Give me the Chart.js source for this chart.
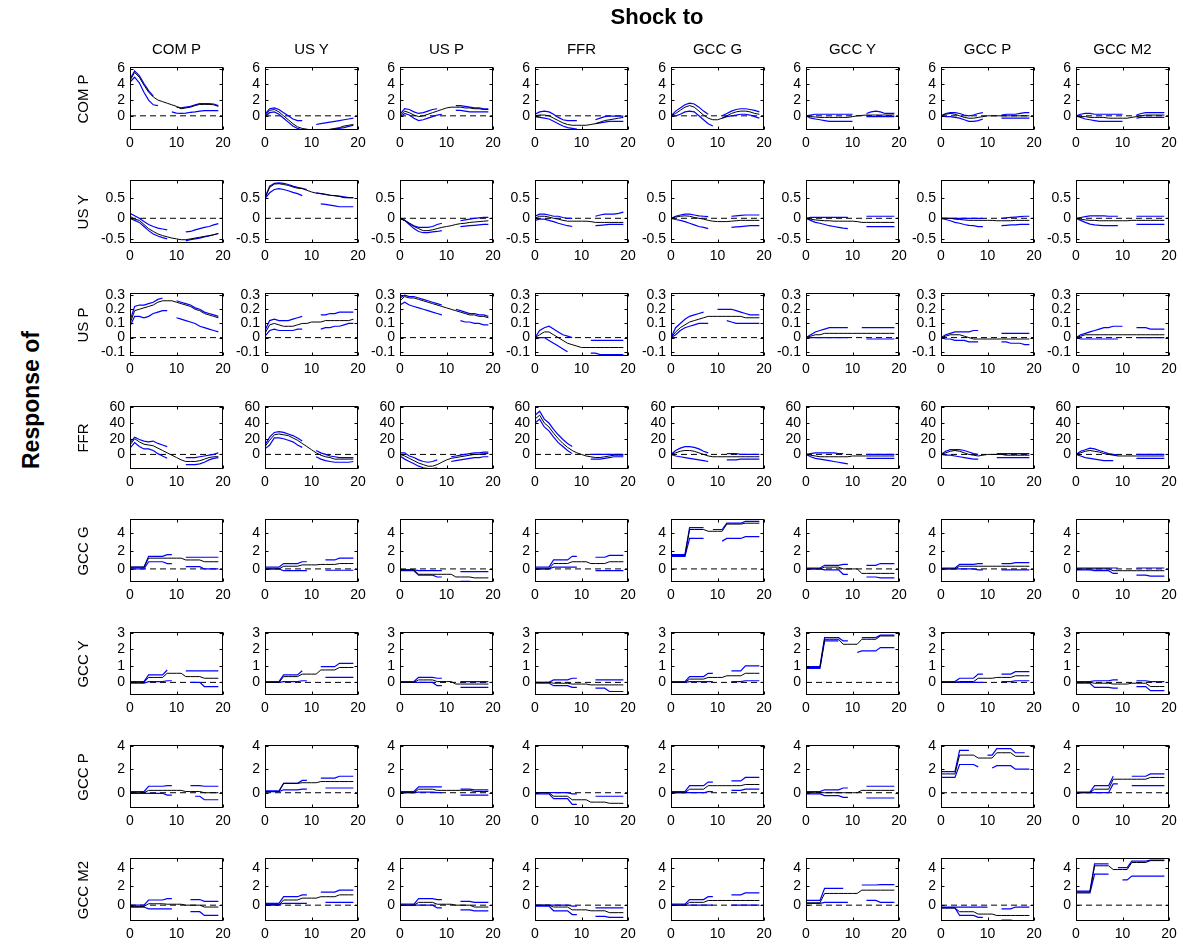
<!DOCTYPE html>
<html>
<head>
<meta charset="utf-8">
<script src="https://cdn.jsdelivr.net/npm/chart.js@4/dist/chart.umd.min.js"></script>
<style>
body { margin: 0; background: #fff; width: 1183px; height: 944px; position: relative; overflow: hidden;
       font-family: Arial, "Liberation Sans", sans-serif; }
canvas { position: absolute; }
.lbl { position: absolute; white-space: nowrap; color: #000; transform: translate(-50%, -50%); }
.rot { transform: translate(-50%, -50%) rotate(-90deg); }
</style>
</head>
<body>
<script>
const _ = null; // gap in a band line

const HZ = [0,1,2,3,4,5,6,7,8,9,10,11,12,13,14,15,16,17,18,19]; // horizon (quarters)

const SHOCKS = ['COM P', 'US Y', 'US P', 'FFR', 'GCC G', 'GCC Y', 'GCC P', 'GCC M2'];
const RESPONSES = ['COM P', 'US Y', 'US P', 'FFR', 'GCC G', 'GCC Y', 'GCC P', 'GCC M2'];

const Y_TICKS = [[0,2,4,6], [-0.5,0,0.5], [-0.1,0,0.1,0.2,0.3], [0,20,40,60], [0,2,4], [0,1,2,3], [0,2,4], [0,2,4]];
const Y_MIN = [-1.8, -0.6, -0.13, -18.6, -1.46, -0.76, -1.3, -1.69];
const Y_MAX = [6.2, 0.93, 0.315, 61.7, 5.57, 3.04, 4.06, 5.03];
const X_TICKS = [0, 10, 20];

// ---- response of COM P ----
const comP_med = [
  [4.5,5.5,4.9,3.9,3.0,2.4,2.0,1.8,1.6,1.4,1.2,0.9,1.0,1.1,1.3,1.45,1.45,1.45,1.4,1.2],
  [0,0.7,0.8,0.5,0,-0.5,-1.0,-1.4,-1.6,-1.7,-1.8,-1.8,-1.8,-1.8,-1.7,-1.6,-1.5,-1.3,-1.2,-1.1],
  [0,0.6,0.4,0.1,-0.1,0,0.2,0.4,0.6,0.8,1.0,1.1,1.1,1.1,1.0,1.0,0.9,0.9,0.8,0.8],
  [0,0.1,0.1,0,-0.3,-0.6,-0.9,-1.1,-1.2,-1.2,-1.2,-1.2,-1.1,-1.0,-0.8,-0.6,-0.5,-0.4,-0.3,-0.2],
  [0,0.3,0.7,1.1,1.3,1.1,0.6,0.1,-0.3,-0.5,-0.5,-0.3,0,0.3,0.5,0.6,0.6,0.5,0.3,0.2],
  [0,-0.1,-0.15,-0.2,-0.2,-0.2,-0.2,-0.2,-0.2,-0.2,-0.1,0,0.05,0.1,0.1,0.1,0.1,0.1,0.1,0.1],
  [0,0.2,0.3,0.2,0,-0.2,-0.3,-0.3,-0.2,-0.1,0,0,0,0,0,0,0,0,0,0],
  [0,-0.1,-0.1,-0.2,-0.2,-0.2,-0.2,-0.3,-0.3,-0.3,-0.3,-0.3,-0.2,-0.1,0,0.1,0.1,0.1,0.1,0.1]
];
const comP_hi = [
  [4.7,5.7,5.1,4.1,3.2,2.5,_,_,_,_,1.1,1.0,1.1,1.2,1.4,1.55,1.55,1.55,1.5,1.3],
  [0.2,0.9,1.0,0.8,0.4,0,-0.4,-0.6,-0.6,_,_,-1.1,-1.0,-0.9,-0.8,-0.7,-0.6,-0.5,-0.4,-0.3],
  [0.2,0.9,0.8,0.5,0.3,0.4,0.6,0.8,0.9,_,_,_,1.3,1.3,1.2,1.1,1.0,1.0,0.9,0.9],
  [0.2,0.5,0.6,0.5,0.2,-0.2,-0.5,-0.6,-0.6,-0.6,_,_,_,-0.5,-0.3,-0.1,-0.05,-0.05,-0.05,-0.05],
  [0,0.6,1.0,1.4,1.6,1.5,1.1,0.6,0.2,_,_,0,0.3,0.6,0.8,0.9,0.9,0.8,0.7,0.5],
  [0,0.1,0.2,0.2,0.2,0.2,0.2,0.2,0.2,0.2,0.2,_,_,0.3,0.5,0.6,0.5,0.3,0.3,0.3],
  [0,0.3,0.4,0.4,0.3,0.1,0,0.1,0.3,0.4,_,_,_,0.1,0.2,0.2,0.2,0.3,0.4,0.4],
  [0,0.2,0.3,0.3,0.2,0.2,0.2,0.2,0.2,0.2,0.2,_,_,0.1,0.3,0.4,0.4,0.4,0.4,0.4]
];
const comP_lo = [
  [4.3,4.9,4.2,3.0,2.0,1.4,1.3,_,_,0.5,0.35,0.3,0.35,0.45,0.5,0.6,0.65,0.65,0.65,0.65],
  [-0.1,0.4,0.5,0.2,-0.3,-0.8,-1.3,-1.6,-1.8,-1.9,-1.95,_,-1.9,-1.9,-1.8,-1.7,-1.6,-1.5,-1.35,-1.2],
  [-0.2,0.3,0.1,-0.3,-0.6,-0.5,-0.3,-0.1,0.1,0.2,_,_,0.7,0.7,0.6,0.5,0.5,0.5,0.5,0.5],
  [-0.1,-0.2,-0.3,-0.4,-0.7,-1.0,-1.3,-1.5,-1.6,-1.7,_,_,_,-1.0,-0.9,-0.8,-0.7,-0.7,-0.7,-0.7],
  [0,0,0.2,0.5,0.6,0.5,0,-0.5,-1.0,-1.3,_,-0.3,-0.1,0,0.1,0.2,0.2,0.1,-0.1,-0.3],
  [0,-0.3,-0.4,-0.5,-0.6,-0.7,-0.7,-0.7,-0.7,-0.7,-0.7,_,_,-0.1,-0.1,-0.1,-0.1,-0.1,-0.1,-0.1],
  [0,-0.1,-0.1,-0.2,-0.3,-0.5,-0.7,-0.7,-0.6,-0.4,_,_,_,-0.3,-0.3,-0.3,-0.3,-0.3,-0.3,-0.3],
  [0,-0.2,-0.4,-0.5,-0.6,-0.7,-0.7,-0.7,-0.7,-0.7,-0.7,_,_,-0.3,-0.2,-0.2,-0.2,-0.2,-0.2,-0.2]
];

// ---- response of US Y ----
const usY_med = [
  [0.05,-0.02,-0.05,-0.15,-0.25,-0.32,-0.38,-0.42,-0.45,-0.48,-0.5,-0.52,-0.52,-0.5,-0.48,-0.46,-0.44,-0.42,-0.4,-0.37],
  [0.5,0.75,0.83,0.84,0.82,0.8,0.76,0.73,0.72,0.68,0.64,0.61,0.6,0.58,0.56,0.55,0.53,0.5,0.5,0.5],
  [0,-0.05,-0.12,-0.2,-0.25,-0.3,-0.3,-0.28,-0.25,-0.22,-0.2,-0.18,-0.15,-0.13,-0.12,-0.1,-0.09,-0.08,-0.07,-0.06],
  [0,0.05,0.05,0.03,0,-0.02,-0.05,-0.07,-0.07,-0.07,-0.07,-0.07,-0.08,-0.1,-0.1,-0.1,-0.1,-0.1,-0.1,-0.1],
  [0,0.03,0.05,0.06,0.05,0.02,0,-0.02,-0.05,-0.07,-0.08,-0.08,-0.08,-0.07,-0.06,-0.05,-0.05,-0.05,-0.05,-0.05],
  [0,-0.02,-0.04,-0.05,-0.06,-0.06,-0.07,-0.07,-0.07,-0.07,-0.07,-0.08,-0.1,-0.1,-0.1,-0.1,-0.1,-0.1,-0.1,-0.1],
  [0,0,0,-0.02,-0.03,-0.04,-0.05,-0.05,-0.05,-0.05,-0.05,-0.05,-0.06,-0.06,-0.06,-0.06,-0.05,-0.05,-0.05,-0.05],
  [0,-0.02,-0.04,-0.05,-0.05,-0.06,-0.06,-0.06,-0.06,-0.06,-0.06,-0.06,-0.05,-0.05,-0.05,-0.05,-0.05,-0.05,-0.05,-0.05]
];
const usY_hi = [
  [0.12,0.06,0,-0.08,-0.15,-0.2,-0.24,-0.26,-0.28,_,_,_,-0.33,-0.32,-0.28,-0.25,-0.22,-0.2,-0.16,-0.13],
  [0.5,0.78,0.85,0.86,0.85,0.82,0.78,0.75,0.73,0.7,_,0.62,0.6,0.58,0.56,0.55,0.54,0.52,0.5,0.5],
  [0,-0.05,-0.12,-0.18,-0.22,-0.22,-0.22,-0.2,-0.15,-0.12,_,_,_,-0.06,-0.04,-0.02,0,0.01,0.02,0.02],
  [0.05,0.1,0.1,0.08,0.05,0.05,0.02,0,0,_,_,_,_,0.05,0.08,0.1,0.1,0.1,0.12,0.15],
  [0,0.05,0.08,0.1,0.1,0.08,0.06,0.05,0.04,_,_,_,_,0.05,0.06,0.07,0.08,0.08,0.08,0.08],
  [0,0.02,0.02,0.02,0.02,0.02,0.02,0.02,0.02,0.02,_,_,_,0.05,0.05,0.05,0.05,0.05,0.05,0.05],
  [0,0,0,0,0,0,0,0,0,0,_,_,_,0,0.01,0.02,0.03,0.04,0.05,0.05],
  [0,0.02,0.04,0.06,0.06,0.06,0.06,0.05,0.05,0.05,_,_,_,0.05,0.05,0.05,0.05,0.05,0.05,0.05]
];
const usY_lo = [
  [0,-0.05,-0.1,-0.2,-0.3,-0.38,-0.43,-0.47,-0.5,_,_,_,-0.55,-0.52,-0.5,-0.48,-0.45,-0.43,-0.4,-0.37],
  [0.48,0.62,0.7,0.72,0.7,0.67,0.63,0.6,0.55,_,_,_,0.35,0.34,0.32,0.3,0.28,0.28,0.28,0.28],
  [0,-0.05,-0.15,-0.25,-0.32,-0.35,-0.35,-0.33,-0.32,-0.3,_,_,_,-0.2,-0.19,-0.18,-0.17,-0.16,-0.15,-0.15],
  [-0.05,-0.02,-0.02,-0.05,-0.08,-0.12,-0.15,-0.18,-0.2,_,_,_,_,-0.18,-0.17,-0.16,-0.15,-0.15,-0.15,-0.15],
  [0,-0.03,-0.05,-0.08,-0.12,-0.16,-0.2,-0.22,-0.25,_,_,_,_,-0.22,-0.21,-0.2,-0.19,-0.18,-0.18,-0.18],
  [0,-0.05,-0.1,-0.12,-0.15,-0.18,-0.2,-0.22,-0.24,-0.25,_,_,_,-0.2,-0.2,-0.2,-0.2,-0.2,-0.2,-0.2],
  [0,-0.03,-0.06,-0.1,-0.12,-0.15,-0.17,-0.18,-0.2,-0.2,_,_,_,-0.18,-0.17,-0.16,-0.16,-0.15,-0.15,-0.15],
  [0,-0.05,-0.1,-0.14,-0.16,-0.17,-0.18,-0.18,-0.18,-0.18,_,_,_,-0.15,-0.15,-0.15,-0.15,-0.15,-0.15,-0.15]
];

// ---- response of US P ----
const usP_med = [
  [0.1,0.19,0.2,0.21,0.22,0.23,0.25,0.26,0.26,0.26,0.25,0.24,0.23,0.22,0.2,0.19,0.17,0.16,0.15,0.14],
  [0.03,0.09,0.1,0.09,0.08,0.08,0.08,0.09,0.1,0.1,0.11,0.11,0.11,0.12,0.12,0.12,0.12,0.12,0.12,0.13],
  [0.26,0.29,0.28,0.28,0.27,0.26,0.25,0.24,0.23,0.22,0.21,0.2,0.19,0.18,0.17,0.16,0.16,0.15,0.15,0.14],
  [0,0.02,0.04,0.04,0.02,0,-0.02,-0.04,-0.05,-0.06,-0.07,-0.07,-0.07,-0.07,-0.07,-0.07,-0.07,-0.07,-0.07,-0.07],
  [0,0.04,0.07,0.09,0.11,0.12,0.13,0.14,0.15,0.15,0.15,0.15,0.15,0.15,0.15,0.15,0.14,0.14,0.14,0.14],
  [0,0.01,0.02,0.02,0.03,0.03,0.03,0.03,0.03,0.03,0.03,0.03,0.03,0.03,0.03,0.03,0.03,0.03,0.03,0.03],
  [0,0.01,0.02,0.02,0.02,0.01,0,-0.01,-0.01,-0.01,-0.01,-0.01,-0.01,-0.01,-0.01,-0.01,-0.01,-0.01,-0.01,-0.01],
  [0,0.01,0.02,0.02,0.02,0.02,0.02,0.02,0.02,0.02,0.02,0.02,0.02,0.02,0.02,0.02,0.02,0.02,0.02,0.02]
];
const usP_hi = [
  [0.12,0.22,0.23,0.23,0.24,0.25,0.27,0.28,_,_,0.26,0.25,0.24,0.23,0.21,0.2,0.18,0.17,0.16,0.15],
  [0.05,0.12,0.13,0.12,0.12,0.12,0.13,0.14,0.15,_,_,_,0.16,0.16,0.17,0.17,0.18,0.18,0.18,0.18],
  [0.28,0.3,0.29,0.29,0.28,0.27,0.26,0.25,0.24,0.23,_,_,0.2,0.19,0.18,0.17,0.17,0.16,0.16,0.15],
  [0,0.05,0.07,0.08,0.06,0.04,0.02,0.01,0,_,_,_,-0.02,-0.02,-0.02,-0.02,-0.02,-0.02,-0.02,-0.02],
  [0,0.07,0.1,0.13,0.15,0.16,0.17,0.18,_,_,0.2,0.2,0.2,0.2,0.19,0.18,0.17,0.16,0.16,0.16],
  [0,0.02,0.04,0.05,0.06,0.07,0.07,0.07,0.07,0.07,_,_,0.07,0.07,0.07,0.07,0.07,0.07,0.07,0.07],
  [0,0.02,0.03,0.04,0.04,0.04,0.04,0.05,0.05,_,_,_,_,0.03,0.03,0.03,0.03,0.03,0.03,0.03],
  [0,0.02,0.03,0.04,0.05,0.06,0.07,0.07,0.08,0.08,0.08,_,_,0.07,0.07,0.07,0.06,0.06,0.06,0.06]
];
const usP_lo = [
  [0.08,0.15,0.15,0.14,0.15,0.17,0.18,0.19,0.19,_,0.14,0.13,0.12,0.11,0.1,0.08,0.07,0.06,0.05,0.04],
  [0.01,0.05,0.06,0.05,0.05,0.05,0.05,0.06,0.06,_,_,_,0.06,0.07,0.07,0.08,0.08,0.09,0.1,0.1],
  [0.23,0.25,0.23,0.22,0.21,0.2,0.19,0.18,0.17,0.16,_,_,_,0.12,0.11,0.11,0.1,0.1,0.09,0.09],
  [-0.01,0,0,-0.02,-0.04,-0.06,-0.08,-0.1,_,_,_,_,-0.11,-0.11,-0.12,-0.12,-0.12,-0.12,-0.12,-0.12],
  [0,0.02,0.05,0.07,0.08,0.09,0.1,0.1,0.1,_,_,_,0.12,0.11,0.1,0.1,0.1,0.1,0.1,0.1],
  [0,0,0,0,0,0,0,0,0,0,_,_,_,-0.01,-0.01,-0.01,-0.01,-0.01,-0.01,-0.01],
  [0,-0.01,-0.01,-0.02,-0.02,-0.02,-0.03,-0.03,-0.03,_,_,_,_,-0.03,-0.03,-0.04,-0.04,-0.04,-0.05,-0.05],
  [0,-0.01,-0.01,-0.01,-0.01,-0.01,-0.01,-0.01,-0.01,-0.01,_,_,_,0,0,0,0,0,0,0]
];

// ---- response of FFR ----
const ffr_med = [
  [12,20,16,13,12,11,8,5,2,-1,-4,-7,-9,-9,-9,-8,-6,-4,-3,-3],
  [10,18,25,26,25,24,21,18,14,10,6,2,-1,-3,-4,-6,-6,-6,-6,-6],
  [0,-2,-5,-8,-11,-13,-15,-15,-13,-10,-7,-5,-4,-3,-2,-1,0,0,1,1],
  [45,50,40,35,27,20,14,9,5,2,0,-2,-3,-4,-4,-3,-2,-1,-1,-1],
  [0,2,4,5,5,4,2,0,-2,-3,-3,-3,-3,-3,-3,-3,-3,-3,-3,-3],
  [0,-1,-2,-3,-3,-3,-3,-3,-3,-3,-2,-2,-2,-2,-2,-2,-2,-2,-2,-2],
  [0,2,4,5,4,2,0,-1,-2,-1,0,0,0,0,-1,-1,-1,-1,-1,-1],
  [0,2,4,5,4,3,1,0,-1,-2,-2,-2,-2,-2,-2,-2,-2,-2,-2,-2]
];
const ffr_hi = [
  [15,22,19,17,16,17,14,12,10,_,_,_,-4,-4,-4,-3,-2,-1,0,2],
  [12,22,28,29,28,26,24,21,17,_,_,5,2,0,-2,-3,-4,-4,-4,-4],
  [2,2,-2,-4,-7,-9,-10,-9,-7,_,_,-3,-2,-1,0,1,2,2,3,3],
  [50,55,45,40,32,25,19,14,10,_,_,_,0,0,0,0,0,0,0,0],
  [0,5,8,10,10,9,7,4,2,_,_,_,1,1,1,0,0,0,0,0],
  [0,1,2,2,2,2,2,1,1,_,_,_,_,0,0,0,0,0,0,0],
  [0,4,6,6,6,5,3,1,0,_,_,_,1,1,1,1,1,1,1,1],
  [0,4,6,8,7,5,3,1,0,-1,_,_,_,0,0,0,0,0,0,0]
];
const ffr_lo = [
  [8,15,10,7,7,5,1,-2,-5,_,_,_,-13,-13,-13,-12,-10,-7,-5,-4],
  [7,12,21,21,20,18,16,12,9,_,_,-3,-6,-8,-9,-10,-10,-10,-10,-9],
  [-2,-6,-9,-12,-15,-17,-18,-18,-17,_,_,-9,-8,-7,-6,-5,-4,-4,-3,-3],
  [40,45,35,30,22,15,10,5,1,_,_,_,-6,-6,-6,-5,-4,-3,-3,-3],
  [0,-2,-3,-4,-5,-6,-7,-8,-9,_,_,_,-7,-7,-7,-6,-6,-6,-6,-6],
  [0,-3,-5,-6,-7,-8,-9,-10,-11,-12,_,_,_,-5,-5,-5,-5,-5,-5,-5],
  [0,-1,-1,-2,-3,-4,-5,-6,-6,_,_,_,-4,-4,-4,-4,-4,-4,-4,-4],
  [0,-2,-4,-5,-6,-7,-8,-8,-8,_,_,_,_,-5,-5,-5,-5,-5,-5,-5]
];

// ---- response of GCC G ----
const gccG_med = [
  [0.2,0.2,0.2,0.2,1.2,1.2,1.2,1.2,1.2,1.2,1.2,1.2,1.0,1.0,1.0,1.0,0.8,0.8,0.8,0.8],
  [0,0,0,0,0.3,0.3,0.3,0.3,0.45,0.45,0.45,0.45,0.5,0.5,0.5,0.5,0.6,0.6,0.6,0.6],
  [-0.1,-0.1,-0.1,-0.1,-0.6,-0.6,-0.6,-0.6,-0.6,-0.6,-0.6,-0.6,-0.9,-0.9,-0.9,-0.9,-1.0,-1.0,-1.0,-1.0],
  [0,0,0,0,0.6,0.6,0.6,0.6,0.8,0.8,0.8,0.8,0.6,0.6,0.6,0.6,0.8,0.8,0.8,0.8],
  [1.5,1.5,1.5,1.5,4.4,4.4,4.4,4.4,4.2,4.2,4.2,4.2,5.0,5.0,5.0,5.0,5.1,5.1,5.1,5.1],
  [0,0,0,0,0.2,0.2,0.2,0.2,0,0,0,0,-0.5,-0.5,-0.5,-0.5,-0.5,-0.5,-0.5,-0.5],
  [0,0,0,0,0.3,0.3,0.3,0.3,0.3,0.3,0.3,0.3,0.3,0.3,0.3,0.3,0.3,0.3,0.3,0.3],
  [0,0,0,0,0,0,0,0,-0.2,-0.2,-0.2,-0.2,-0.2,-0.2,-0.2,-0.2,-0.2,-0.2,-0.2,-0.2]
];
const gccG_hi = [
  [0.2,0.2,0.2,0.2,1.4,1.4,1.4,1.4,1.6,1.6,_,_,1.3,1.3,1.3,1.3,1.3,1.3,1.3,1.3],
  [0.2,0.2,0.2,0.2,0.6,0.6,0.6,0.6,0.8,0.8,_,_,_,1.0,1.0,1.0,1.2,1.2,1.2,1.2],
  [-0.1,-0.1,-0.1,-0.1,-0.2,-0.2,-0.2,-0.2,-0.2,-0.2,_,_,_,-0.3,-0.3,-0.3,-0.3,-0.3,-0.3,-0.3],
  [0.2,0.2,0.2,0.2,1.0,1.0,1.0,1.0,1.4,1.4,_,_,_,1.3,1.3,1.3,1.5,1.5,1.5,1.5],
  [1.6,1.6,1.6,1.6,4.6,4.6,4.6,4.6,_,4.4,4.4,4.4,5.1,5.1,5.1,5.1,5.3,5.3,5.3,5.3],
  [0.1,0.1,0.1,0.1,0.4,0.4,0.4,0.4,0.5,0.5,_,_,_,0.4,0.4,0.4,0.6,0.6,0.6,0.6],
  [0.1,0.1,0.1,0.1,0.5,0.5,0.5,0.5,0.6,0.6,_,_,_,0.6,0.6,0.6,0.7,0.7,0.7,0.7],
  [0.1,0.1,0.1,0.1,0.1,0.1,0.1,0.1,0.1,0.1,_,_,_,0.1,0.1,0.1,0.1,0.1,0.1,0.1]
];
const gccG_lo = [
  [0,0,0,0,0.8,0.8,0.8,0.8,0.6,0.6,_,_,0.25,0.25,0.25,0.25,0,0,0,0],
  [0,0,0,0,-0.2,-0.2,-0.2,-0.2,-0.2,-0.2,_,_,_,-0.15,-0.15,-0.15,-0.15,-0.15,-0.15,-0.15],
  [-0.2,-0.2,-0.2,-0.2,-0.7,-0.7,-0.7,-0.7,-0.9,-0.9,_,_,_,-1.4,-1.4,-1.4,-1.5,-1.5,-1.5,-1.5],
  [0,0,0,0,0.2,0.2,0.2,0.2,0.2,0.2,_,_,_,-0.2,-0.2,-0.2,-0.2,-0.2,-0.2,-0.2],
  [1.4,1.4,1.4,1.4,3.4,3.4,3.4,3.4,_,_,_,3.1,3.4,3.4,3.4,3.4,3.6,3.6,3.6,3.6],
  [0,0,0,0,-0.1,-0.1,-0.1,-0.1,-0.6,-0.6,_,_,_,-0.9,-0.9,-0.9,-1.0,-1.0,-1.0,-1.0],
  [0,0,0,0,0,0,0,0,-0.1,-0.1,_,_,_,-0.1,-0.1,-0.1,-0.1,-0.1,-0.1,-0.1],
  [-0.1,-0.1,-0.1,-0.1,-0.2,-0.2,-0.2,-0.2,-0.5,-0.5,_,_,_,-0.7,-0.7,-0.7,-0.8,-0.8,-0.8,-0.8]
];

// ---- response of GCC Y ----
const gccY_med = [
  [0,0,0,0,0.3,0.3,0.3,0.3,0.55,0.55,0.55,0.55,0.35,0.35,0.35,0.35,0.25,0.25,0.25,0.25],
  [0,0,0,0,0.35,0.35,0.35,0.35,0.5,0.5,0.5,0.5,0.75,0.75,0.75,0.75,0.9,0.9,0.9,0.9],
  [0,0,0,0,0.15,0.15,0.15,0.15,0.05,0.05,0.05,0.05,-0.1,-0.1,-0.1,-0.1,-0.1,-0.1,-0.1,-0.1],
  [0,0,0,0,-0.05,-0.05,-0.05,-0.05,-0.1,-0.1,-0.1,-0.1,-0.15,-0.15,-0.15,-0.15,-0.15,-0.15,-0.15,-0.15],
  [0,0,0,0,0.2,0.2,0.2,0.2,0.3,0.3,0.3,0.3,0.4,0.4,0.4,0.4,0.55,0.55,0.55,0.55],
  [0.9,0.9,0.9,0.9,2.6,2.6,2.6,2.6,2.3,2.3,2.3,2.3,2.6,2.6,2.6,2.6,2.8,2.8,2.8,2.8],
  [0,0,0,0,0.05,0.05,0.05,0.05,0.25,0.25,0.25,0.25,0.3,0.3,0.3,0.3,0.4,0.4,0.4,0.4],
  [0,0,0,0,-0.05,-0.05,-0.05,-0.05,-0.1,-0.1,-0.1,-0.1,-0.05,-0.05,-0.05,-0.05,-0.25,-0.25,-0.25,-0.25]
];
const gccY_hi = [
  [0.05,0.05,0.05,0.05,0.45,0.45,0.45,0.45,0.75,_,_,_,0.7,0.7,0.7,0.7,0.7,0.7,0.7,0.7],
  [0.05,0.05,0.05,0.05,0.45,0.45,0.45,0.45,0.7,_,_,_,0.95,0.95,0.95,0.95,1.15,1.15,1.15,1.15],
  [0.05,0.05,0.05,0.05,0.3,0.3,0.3,0.3,0.25,0.25,_,_,_,0.05,0.05,0.05,0.05,0.05,0.05,0.05],
  [0,0,0,0,0.15,0.15,0.15,0.15,0.25,0.25,_,_,_,0.15,0.15,0.15,0.15,0.15,0.15,0.15],
  [0.05,0.05,0.05,0.05,0.35,0.35,0.35,0.35,0.55,0.55,_,_,_,0.7,0.7,0.7,1.0,1.0,1.0,1.0],
  [0.95,0.95,0.95,0.95,2.7,2.7,2.7,2.7,2.5,2.5,_,_,2.7,2.7,2.7,2.7,2.85,2.85,2.85,2.85],
  [0.05,0.05,0.05,0.05,0.25,0.25,0.25,0.25,0.5,0.5,_,_,_,0.5,0.5,0.5,0.65,0.65,0.65,0.65],
  [0.05,0.05,0.05,0.05,0.1,0.1,0.1,0.1,0.15,0.15,_,_,_,0.1,0.1,0.1,0.05,0.05,0.05,0.05]
];
const gccY_lo = [
  [-0.05,-0.05,-0.05,-0.05,0.05,0.05,0.05,0.05,0.1,0.1,_,_,_,0,0,0,-0.25,-0.25,-0.25,-0.25],
  [0,0,0,0,0.05,0.05,0.05,0.05,0.1,0.1,_,_,_,0.3,0.3,0.3,0.3,0.3,0.3,0.3],
  [0,0,0,0,0,0,0,0,-0.2,-0.2,_,_,_,-0.3,-0.3,-0.3,-0.3,-0.3,-0.3,-0.3],
  [-0.05,-0.05,-0.05,-0.05,-0.2,-0.2,-0.2,-0.2,-0.3,-0.3,_,_,_,-0.35,-0.35,-0.35,-0.55,-0.55,-0.55,-0.55],
  [0,0,0,0,0.05,0.05,0.05,0.05,0.05,0.05,_,_,_,0.05,0.05,0.05,0.1,0.1,0.1,0.1],
  [0.85,0.85,0.85,0.85,2.5,2.5,2.5,2.5,_,_,_,1.8,1.9,1.9,1.9,1.9,2.1,2.1,2.1,2.1],
  [0,0,0,0,0,0,0,0,0,0,_,_,_,0.05,0.05,0.05,0.1,0.1,0.1,0.1],
  [-0.05,-0.05,-0.05,-0.05,-0.3,-0.3,-0.3,-0.3,-0.35,-0.35,_,_,_,-0.25,-0.25,-0.25,-0.5,-0.5,-0.5,-0.5]
];

// ---- response of GCC P ----
const gccP_med = [
  [0,0,0,0,0.2,0.2,0.2,0.2,0.2,0.2,0.2,0.2,0.1,0.1,0.1,0.1,0,0,0,0],
  [0.1,0.1,0.1,0.1,0.8,0.8,0.8,0.8,0.85,0.85,0.85,0.85,0.95,0.95,0.95,0.95,0.95,0.95,0.95,0.95],
  [0,0,0,0,0.3,0.3,0.3,0.3,0.2,0.2,0.2,0.2,0.2,0.2,0.2,0.2,0.1,0.1,0.1,0.1],
  [0,0,0,0,-0.3,-0.3,-0.3,-0.3,-0.6,-0.6,-0.6,-0.6,-0.8,-0.8,-0.8,-0.8,-0.9,-0.9,-0.9,-0.9],
  [0,0,0,0,0.3,0.3,0.3,0.3,0.6,0.6,0.6,0.6,0.6,0.6,0.6,0.6,0.7,0.7,0.7,0.7],
  [0,0,0,0,0,0,0,0,0,0,0,0,0.2,0.2,0.2,0.2,0.2,0.2,0.2,0.2],
  [1.6,1.6,1.6,1.6,3.2,3.2,3.2,3.2,2.95,2.95,2.95,2.95,3.4,3.4,3.4,3.4,3.1,3.1,3.1,3.1],
  [0,0,0,0,0.3,0.3,0.3,0.3,1.15,1.15,1.15,1.15,1.15,1.15,1.15,1.15,1.3,1.3,1.3,1.3]
];
const gccP_hi = [
  [0.1,0.1,0.1,0.1,0.55,0.55,0.55,0.55,0.6,0.6,_,_,_,0.6,0.6,0.6,0.55,0.55,0.55,0.55],
  [0.15,0.15,0.15,0.15,0.8,0.8,0.8,0.8,1.05,1.05,_,_,1.25,1.25,1.25,1.25,1.4,1.4,1.4,1.4],
  [0.1,0.1,0.1,0.1,0.5,0.5,0.5,0.5,0.5,0.5,_,_,_,0.3,0.3,0.3,0.25,0.25,0.25,0.25],
  [0,0,0,0,0,0,0,0,-0.1,-0.1,_,_,_,-0.3,-0.3,-0.3,-0.3,-0.3,-0.3,-0.3],
  [0.1,0.1,0.1,0.1,0.6,0.6,0.6,0.6,0.9,0.9,_,_,_,1.0,1.0,1.0,1.3,1.3,1.3,1.3],
  [0.1,0.1,0.1,0.1,0.25,0.25,0.25,0.25,0.4,0.4,_,_,_,0.55,0.55,0.55,0.55,0.55,0.55,0.55],
  [1.8,1.8,1.8,1.8,3.6,3.6,3.6,_,_,_,3.2,3.2,3.75,3.75,3.75,3.75,3.4,3.4,3.4,_],
  [0.05,0.05,0.05,0.05,0.6,0.6,0.6,0.6,1.4,_,_,_,1.4,1.4,1.4,1.4,1.6,1.6,1.6,1.6]
];
const gccP_lo = [
  [-0.05,-0.05,-0.05,-0.05,-0.05,-0.05,-0.05,-0.05,-0.2,-0.2,_,_,_,_,-0.3,-0.3,-0.6,-0.6,-0.6,-0.6],
  [0.1,0.1,0.1,0.1,0.25,0.25,0.25,0.25,0.3,0.3,_,_,_,0.4,0.4,0.4,0.4,0.4,0.4,0.4],
  [0,0,0,0,0.05,0.05,0.05,0.05,0,0,_,_,_,-0.2,-0.2,-0.2,-0.2,-0.2,-0.2,-0.2],
  [-0.1,-0.1,-0.1,-0.1,-0.5,-0.5,-0.5,-0.5,-1.0,-1.0,_,_,_,-1.3,-1.3,-1.3,-1.3,-1.3,-1.3,-1.3],
  [0,0,0,0,0,0,0,0,0.1,0.1,_,_,_,0.2,0.2,0.2,0.3,0.3,0.3,0.3],
  [-0.1,-0.1,-0.1,-0.1,-0.25,-0.25,-0.25,-0.25,-0.4,-0.4,_,_,_,-0.45,-0.45,-0.45,-0.45,-0.45,-0.45,-0.45],
  [1.3,1.3,1.3,1.3,2.4,2.4,2.4,2.4,2.2,_,_,2.1,2.3,2.3,2.3,2.3,2.0,2.0,2.0,2.0],
  [0,0,0,0,0,0,0,0,0.75,0.75,_,_,0.6,0.6,0.6,0.6,0.6,0.6,0.6,0.6]
];

// ---- response of GCC M2 ----
const gccM2_med = [
  [-0.15,-0.15,-0.15,-0.15,0.15,0.15,0.15,0.15,0.1,0.1,0.1,0.1,0,0,0,0,-0.2,-0.2,-0.2,-0.2],
  [0,0,0,0,0.55,0.55,0.55,0.55,0.75,0.75,0.75,0.75,0.9,0.9,0.9,0.9,1.1,1.1,1.1,1.1],
  [0,0,0,0,0.3,0.3,0.3,0.3,0.1,0.1,0.1,0.1,0,0,0,0,-0.2,-0.2,-0.2,-0.2],
  [0,0,0,0,-0.2,-0.2,-0.2,-0.2,-0.5,-0.5,-0.5,-0.5,-0.6,-0.6,-0.6,-0.6,-0.8,-0.8,-0.8,-0.8],
  [0,0,0,0,0.3,0.3,0.3,0.3,0.5,0.5,0.5,0.5,0.5,0.5,0.5,0.5,0.5,0.5,0.5,0.5],
  [0.25,0.25,0.25,0.25,1.25,1.25,1.25,1.25,1.25,1.25,1.25,1.25,1.6,1.6,1.6,1.6,1.6,1.6,1.6,1.6],
  [-0.3,-0.3,-0.3,-0.3,-0.7,-0.7,-0.7,-0.7,-0.95,-0.95,-0.95,-0.95,-1.1,-1.1,-1.1,-1.1,-1.1,-1.1,-1.1,-1.1],
  [1.4,1.4,1.4,1.4,4.2,4.2,4.2,4.2,3.8,3.8,3.8,3.8,4.55,4.55,4.55,4.55,4.75,4.75,4.75,4.75]
];
const gccM2_hi = [
  [0,0,0,0,0.55,0.55,0.55,0.55,0.7,0.7,_,_,_,0.6,0.6,0.6,0.4,0.4,0.4,0.4],
  [0.2,0.2,0.2,0.2,0.9,0.9,0.9,0.9,1.1,1.1,_,_,1.4,1.4,1.4,1.4,1.6,1.6,1.6,1.6],
  [0.1,0.1,0.1,0.1,0.7,0.7,0.7,0.7,0.6,0.6,_,_,_,0.4,0.4,0.4,0.3,0.3,0.3,0.3],
  [0,0,0,0,0,0,0,0,-0.1,-0.1,_,_,_,-0.3,-0.3,-0.3,-0.3,-0.3,-0.3,-0.3],
  [0.1,0.1,0.1,0.1,0.6,0.6,0.6,0.6,0.9,0.9,_,_,_,1.1,1.1,1.1,1.3,1.3,1.3,1.3],
  [0.5,0.5,0.5,0.5,1.8,1.8,1.8,1.8,1.8,_,_,_,2.15,2.15,2.15,2.15,2.2,2.2,2.2,2.2],
  [-0.2,-0.2,-0.2,-0.2,-0.2,-0.2,-0.2,-0.2,-0.2,-0.2,-0.2,_,_,-0.4,-0.4,-0.4,-0.2,-0.2,-0.2,-0.2],
  [1.5,1.5,1.5,1.5,4.4,4.4,4.4,4.4,_,4.0,4.0,4.0,4.7,4.7,4.7,4.7,4.8,4.8,4.8,4.8]
];
const gccM2_lo = [
  [-0.2,-0.2,-0.2,-0.2,-0.4,-0.4,-0.4,-0.4,-0.4,-0.4,_,_,_,-0.7,-0.7,-0.7,-1.1,-1.1,-1.1,-1.1],
  [0.05,0.05,0.05,0.05,0.2,0.2,0.2,0.2,0.2,0.2,_,_,_,0.3,0.3,0.3,0.3,0.3,0.3,0.3],
  [0,0,0,0,0,0,0,0,-0.3,-0.3,_,_,_,-0.5,-0.5,-0.5,-0.6,-0.6,-0.6,-0.6],
  [-0.1,-0.1,-0.1,-0.1,-0.6,-0.6,-0.6,-0.6,-1.0,-1.0,_,_,_,-1.2,-1.2,-1.2,-1.3,-1.3,-1.3,-1.3],
  [0,0,0,0,0,0,0,0,0,0,_,_,_,0,0,0,0,0,0,0],
  [0.2,0.2,0.2,0.2,0.3,0.3,0.3,0.3,0.3,0.3,_,_,_,0.5,0.5,0.5,0.3,0.3,0.3,0.3],
  [-0.3,-0.3,-0.3,-0.3,-1.1,-1.1,-1.1,-1.1,-1.3,-1.3,_,_,_,-1.6,-1.6,-1.6,-1.7,-1.7,-1.7,-1.7],
  [1.3,1.3,1.3,1.3,3.3,3.3,3.3,3.3,_,_,2.7,2.7,3.1,3.1,3.1,3.1,3.1,3.1,3.1,3.1]
];

const MED = [comP_med, usY_med, usP_med, ffr_med, gccG_med, gccY_med, gccP_med, gccM2_med];
const HI  = [comP_hi, usY_hi, usP_hi, ffr_hi, gccG_hi, gccY_hi, gccP_hi, gccM2_hi];
const LO  = [comP_lo, usY_lo, usP_lo, ffr_lo, gccG_lo, gccY_lo, gccP_lo, gccM2_lo];

// layout of the panel grid
const PLOT_W = 93, PLOT_H = 63;
const PAD_L = 48, PAD_R = 14, PAD_T = 9, PAD_B = 28;
const colLeft = c => Math.round(130 + 135.15 * c);
const rowTop = r => Math.round(66.7 + 113.05 * r);
const FONT = 'Arial, "Liberation Sans", sans-serif';

// box round the plot with inward tick marks, matlab style
const framePlugin = {
  id: 'frame',
  afterDraw(chart) {
    const { ctx, chartArea: a, scales } = chart;
    const L = Math.round(a.left) + 0.5, R = Math.round(a.right) - 0.5;
    const T = Math.round(a.top) + 0.5, B = Math.round(a.bottom) - 0.5;
    ctx.save();
    ctx.strokeStyle = '#000';
    ctx.lineWidth = 1;
    ctx.strokeRect(L, T, R - L, B - T);
    ctx.beginPath();
    scales.x.ticks.forEach(t => {
      const px = Math.round(scales.x.getPixelForValue(t.value)) + 0.5;
      ctx.moveTo(px, B); ctx.lineTo(px, B - 3);
      ctx.moveTo(px, T); ctx.lineTo(px, T + 3);
    });
    scales.y.ticks.forEach(t => {
      const py = Math.round(scales.y.getPixelForValue(t.value)) + 0.5;
      ctx.moveTo(L, py); ctx.lineTo(L + 3, py);
      ctx.moveTo(R, py); ctx.lineTo(R - 3, py);
    });
    ctx.stroke();
    ctx.restore();
  }
};

function addText(txt, x, y, css, rotate) {
  const d = document.createElement('div');
  d.className = 'lbl' + (rotate ? ' rot' : '');
  d.textContent = txt;
  d.style.left = x + 'px';
  d.style.top = y + 'px';
  d.style.cssText += css;
  document.body.appendChild(d);
}

const pts = arr => HZ.map((h, i) => ({ x: h, y: arr[i] }));

for (let r = 0; r < 8; r++) {
  for (let c = 0; c < 8; c++) {
    const cv = document.createElement('canvas');
    cv.width = PAD_L + PLOT_W + PAD_R;
    cv.height = PAD_T + PLOT_H + PAD_B;
    cv.style.left = (colLeft(c) - PAD_L) + 'px';
    cv.style.top = (rowTop(r) - PAD_T) + 'px';
    document.body.appendChild(cv);

    new Chart(cv, {
      type: 'line',
      data: {
        datasets: [
          { data: pts(MED[r][c]), borderColor: '#000', borderWidth: 1, order: 1 },
          { data: pts(HI[r][c]), borderColor: '#0000ff', borderWidth: 1.2, order: 2 },
          { data: pts(LO[r][c]), borderColor: '#0000ff', borderWidth: 1.2, order: 2 },
          { data: [{ x: 0, y: 0 }, { x: 20, y: 0 }], borderColor: '#000', borderWidth: 1,
            borderDash: [6, 4], order: 3 }
        ]
      },
      options: {
        responsive: false,
        animation: false,
        devicePixelRatio: 1,
        spanGaps: false,
        elements: { point: { radius: 0 }, line: { tension: 0 } },
        layout: { padding: { left: 0, top: PAD_T, right: PAD_R, bottom: 0 } },
        plugins: { legend: { display: false }, tooltip: { enabled: false } },
        scales: {
          x: {
            type: 'linear', min: 0, max: 20,
            grid: { display: false, drawTicks: false },
            border: { display: false },
            afterBuildTicks: s => { s.ticks = X_TICKS.map(v => ({ value: v })); },
            afterFit: s => { s.height = PAD_B; s.paddingLeft = 0; s.paddingRight = 0; s.paddingTop = 0; s.paddingBottom = 0; },
            ticks: { color: '#000', padding: 5, maxRotation: 0, autoSkip: false, font: { family: FONT, size: 14 },
                     callback: v => String(v) }
          },
          y: {
            type: 'linear', min: Y_MIN[r], max: Y_MAX[r],
            grid: { display: false, drawTicks: false },
            border: { display: false },
            afterBuildTicks: s => { s.ticks = Y_TICKS[r].map(v => ({ value: v })); },
            afterFit: s => { s.width = PAD_L; s.paddingTop = 0; s.paddingBottom = 0; s.paddingLeft = 0; s.paddingRight = 0; },
            ticks: { color: '#000', padding: 5, autoSkip: false, font: { family: FONT, size: 14 },
                     callback: v => String(Math.round(v * 100) / 100) }
          }
        }
      },
      plugins: [framePlugin]
    });
  }
}

// titles
SHOCKS.forEach((s, c) => addText(s, colLeft(c) + PLOT_W / 2, 48, 'font-size:15px;'));
RESPONSES.forEach((s, r) => addText(s, 82, rowTop(r) + PLOT_H / 2, 'font-size:15px;', true));
addText('Shock to', 657, 17, 'font-size:22px;font-weight:bold;');
addText('Response of', 31, 400, 'font-size:23px;font-weight:bold;', true);
</script>
</body>
</html>
